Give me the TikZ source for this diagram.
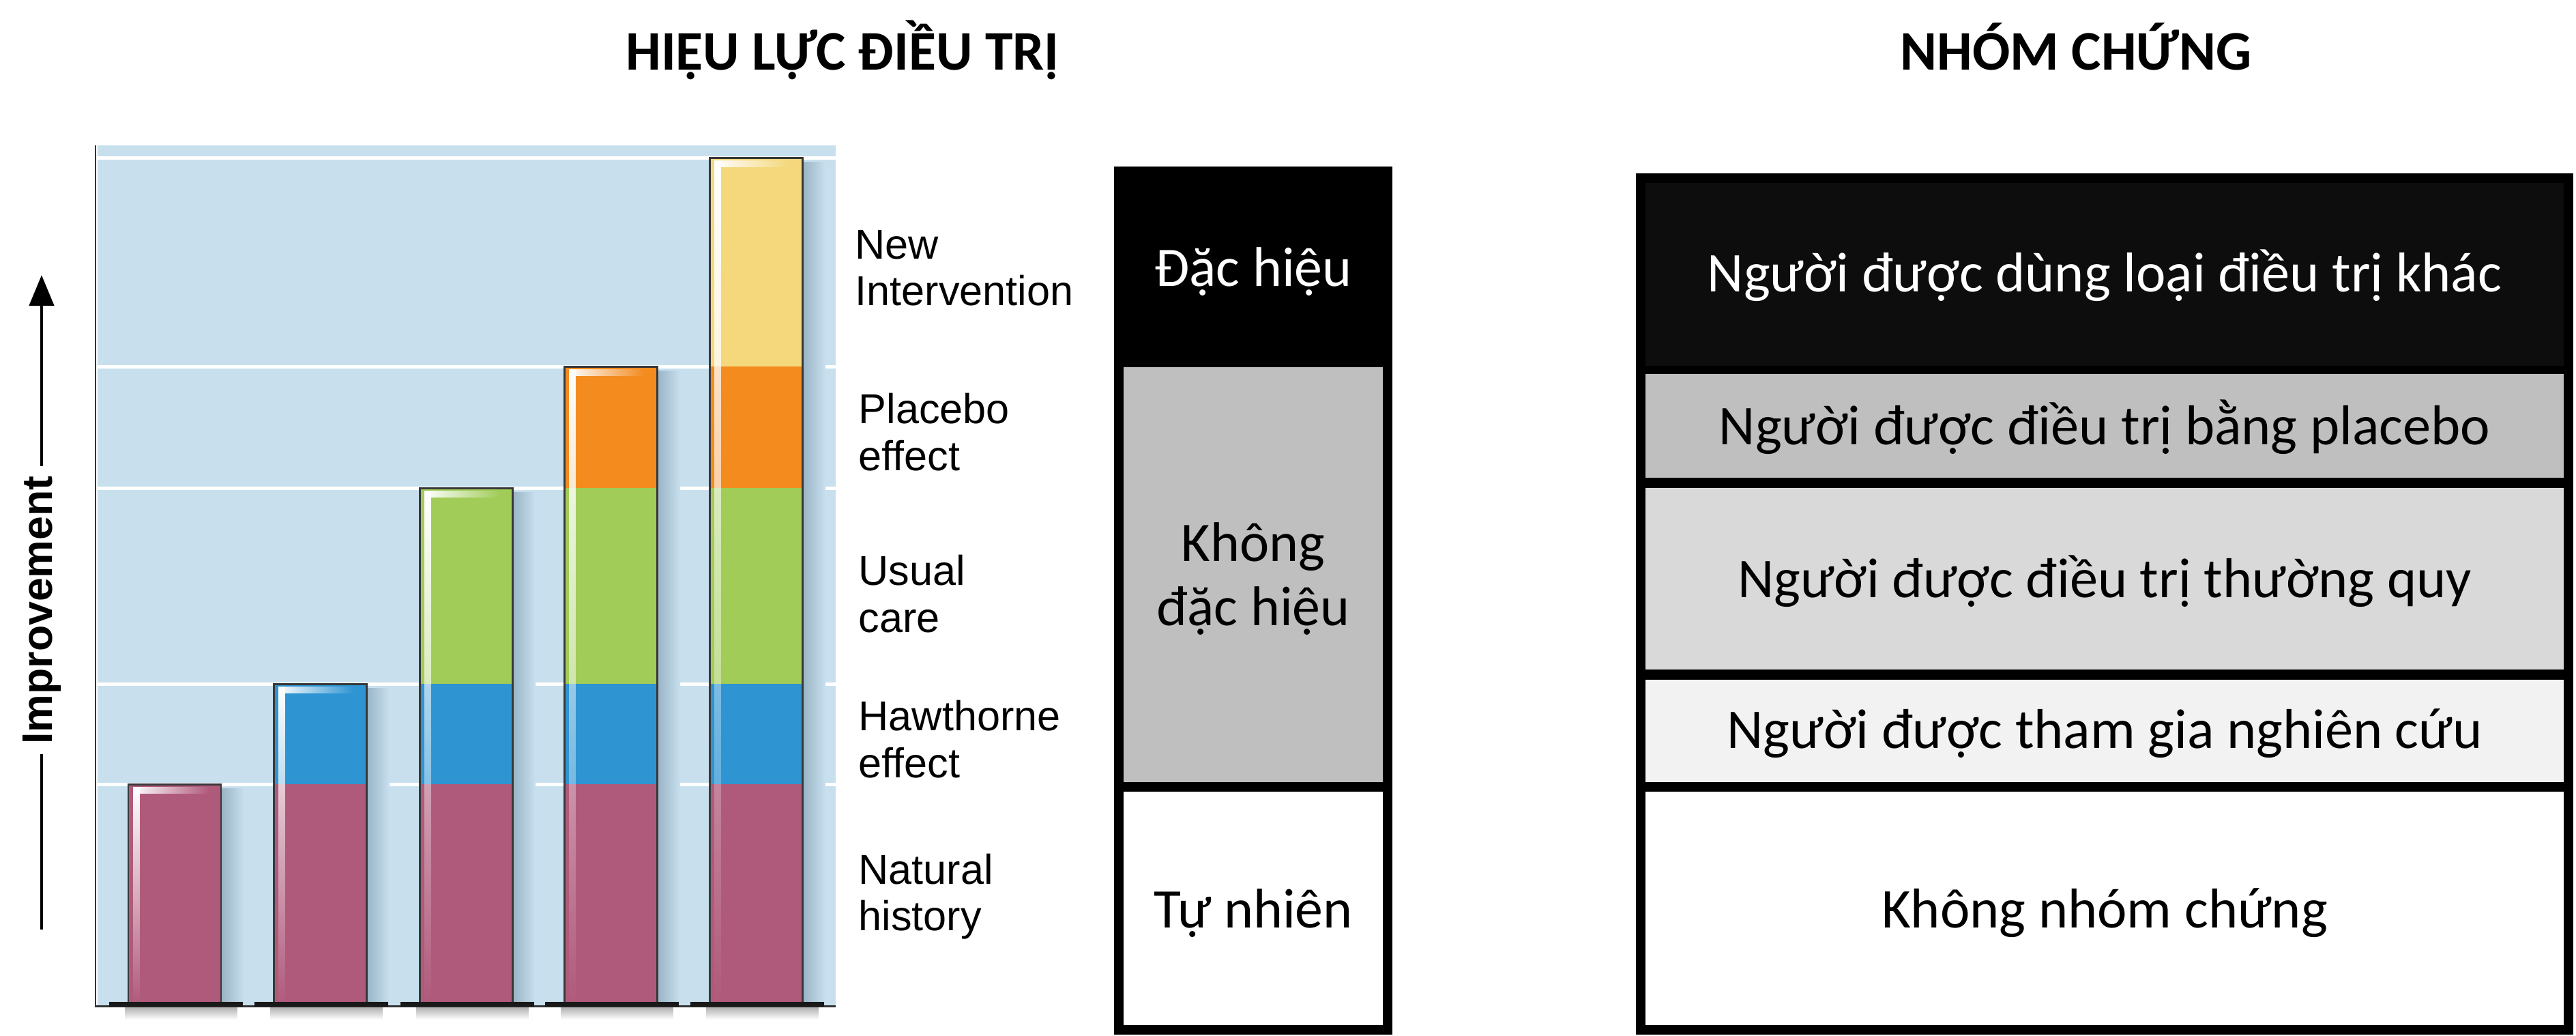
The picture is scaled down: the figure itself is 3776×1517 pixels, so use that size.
\documentclass[tikz,border=0pt]{standalone}
\usepackage{fontspec}
\setmainfont{Carlito}
\newfontfamily\helv{Liberation Sans}
\usetikzlibrary{arrows.meta,fadings}
\definecolor{chartbg}{HTML}{C8E0EE}
\definecolor{barshadow}{HTML}{98B3C5}
\definecolor{natural}{HTML}{B05A7B}
\definecolor{hawthorne}{HTML}{2E94D2}
\definecolor{usualcare}{HTML}{A1CC58}
\definecolor{placebo}{HTML}{F38B1F}
\definecolor{newint}{HTML}{F5D87B}
\definecolor{greyA}{HTML}{BFBFBF}
\definecolor{greyB}{HTML}{D9D9D9}
\definecolor{greyC}{HTML}{F2F2F2}
\begin{document}
\begin{tikzpicture}
        [x=0.01cm, y=-0.01cm,
        tit/.style={font=\bfseries\fontsize{23.3}{28}\selectfont, anchor=base},
        lab/.style={font=\helv\fontsize{17.4}{19.4}\selectfont, anchor=west, align=left, inner sep=0pt},
        mid/.style={font=\fontsize{23.3}{26.5}\selectfont, align=center},
        grp/.style={font=\fontsize{23.4}{28}\selectfont, anchor=base},
        gridline/.style={white, line width=1.42pt},
        barbox/.style={draw=black!78, line width=0.85pt}]
        \useasboundingbox (0,0) rectangle (3776,1517);
        %Titel
        \node [tit] (tHL) at (1235,102) {HIỆU LỰC ĐIỀU TRỊ};
        \node [tit] (tNC) at (3043,102) {NHÓM CHỨNG};
        %Diagramm
        \fill [chartbg] (143,213) rectangle (1225,1473);
        \foreach \y in {231,537,715,1002,1149}
                \draw [gridline] (143,\y) -- (1225,\y);
        %Balken
        \foreach \i/\xl/\yt in {1/188/1149,2/401/1002,3/615/715,4/827/537,5/1040/231} {
                \shade [left color=barshadow, right color=chartbg] (\xl+136,\yt+6) rectangle (\xl+170,1472);
                \foreach \j/\ya/\yb/\c in {1/1472/1149/natural,2/1149/1002/hawthorne,3/1002/715/usualcare,4/715/537/placebo,5/537/231/newint}
                        {\ifnum\j>\i\else\fill [\c] (\xl,\ya) rectangle (\xl+136,\yb);\fi}
                \fill [white, path fading=south] (\xl+7,\yt+4) rectangle (\xl+17,1472);
                \fill [white, path fading=east] (\xl+7,\yt+4) rectangle (\xl+118,\yt+14);
                \draw [barbox] (\xl,\yt) rectangle (\xl+136,1472);
        }
        %Achsen
        \draw [black!80, line width=0.85pt] (140,213) -- (140,1474) -- (1225,1474);
        \foreach \xl in {188,401,615,827,1040} {
                \draw [black!90, line width=2pt] (\xl-28,1471) -- (\xl+168,1471);
                \fill [black!30, path fading=south] (\xl-5,1476) rectangle (\xl+160,1494);
        }
        \node [font=\helv\bfseries\fontsize{17.8}{20}\selectfont, rotate=90, inner sep=4pt] (imp) at (61,894) {Improvement};
        \coordinate (arrtop) at (61,403);
        \coordinate (arrbot) at (61,1362);
        \draw [line width=1.42pt, -{Triangle[length=12.8pt,width=10.2pt]}] (imp.east) -- (arrtop);
        \draw [line width=1.42pt] (imp.west) -- (arrbot);
        %Legende
        \node [lab] (lNew) at (1253,393) {New\\Intervention};
        \node [lab] (lPla) at (1258,633) {Placebo\\effect};
        \node [lab] (lUsu) at (1258,870) {Usual\\care};
        \node [lab] (lHaw) at (1258,1083) {Hawthorne\\effect};
        \node [lab] (lNat) at (1258,1314) {Natural\\history};
        %Hieu luc
        \fill [black] (1633,244) rectangle (2041,1516);
        \fill [greyA] (1647,538) rectangle (2027,1146);
        \fill [white] (1647,1160) rectangle (2027,1502);
        \node [mid, white, anchor=base] (dh) at (1837,419) {Đặc hiệu};
        \node [mid] (kdh) at (1837,848) {Không\\đặc hiệu};
        \node [mid, anchor=base] (tn) at (1837,1359) {Tự nhiên};
        %Nhom chung
        \fill [black] (2398,254) rectangle (3772,1516);
        \fill [black!95] (2412,268) rectangle (3758,536);
        \fill [greyA] (2412,548) rectangle (3758,700);
        \fill [greyB] (2412,715) rectangle (3758,981);
        \fill [greyC] (2412,996) rectangle (3758,1146);
        \fill [white] (2412,1160) rectangle (3758,1502);
        \node [grp, white] (gKhac) at (3085,427) {Người được dùng loại điều trị khác};
        \node [grp] (gPla) at (3085,651) {Người được điều trị bằng placebo};
        \node [grp] (gTq) at (3085,875) {Người được điều trị thường quy};
        \node [grp] (gNc) at (3085,1096) {Người được tham gia nghiên cứu};
        \node [grp] (gKnc) at (3085,1359) {Không nhóm chứng};
\end{tikzpicture}
\end{document}
